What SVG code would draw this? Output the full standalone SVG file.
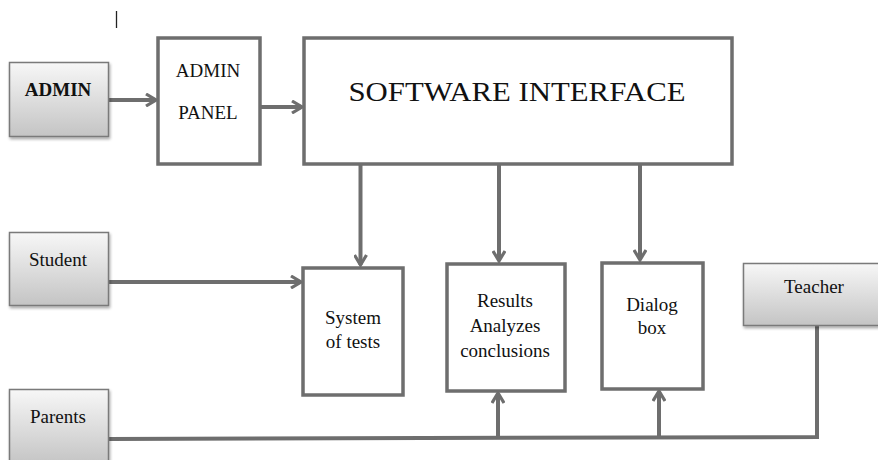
<svg xmlns="http://www.w3.org/2000/svg" width="878" height="460" viewBox="0 0 878 460">
  <defs>
    <linearGradient id="gfill" x1="0" y1="0" x2="0" y2="1">
      <stop offset="0" stop-color="#f7f7f7"/>
      <stop offset="1" stop-color="#c4c4c4"/>
    </linearGradient>
    <filter id="shadow" x="-10%" y="-10%" width="130%" height="130%">
      <feGaussianBlur in="SourceAlpha" stdDeviation="1.5"/>
      <feOffset dx="1" dy="2" result="b"/>
      <feComponentTransfer><feFuncA type="linear" slope="0.35"/></feComponentTransfer>
      <feMerge><feMergeNode/><feMergeNode in="SourceGraphic"/></feMerge>
    </filter>
    <marker id="arr" viewBox="0 0 14 14" refX="12" refY="7" markerWidth="14" markerHeight="14" markerUnits="userSpaceOnUse" orient="auto">
      <path d="M2,1 L12,7 L2,13" fill="none" stroke="#6e6e6e" stroke-width="3.2" stroke-linejoin="miter"/>
    </marker>
    <style>
      .actor { fill: url(#gfill); stroke: #7a7a7a; stroke-width: 1.5; filter: url(#shadow); }
      .box { fill: #ffffff; stroke: #6e6e6e; stroke-width: 3.5; }
      .lbl { font-family: 'Liberation Serif', 'DejaVu Serif', serif; font-size: 19px; fill: #111; text-anchor: middle; }
      .bold { font-weight: bold; }
      .big { font-size: 27px; }
      .conn { fill: none; stroke: #6e6e6e; stroke-width: 4; }
      .arrow { marker-end: url(#arr); }
    </style>
  </defs>

  <line x1="116.5" y1="11" x2="116.5" y2="28" stroke="#222" stroke-width="1.3"/>

  <g id="connectors">
    <line class="conn arrow" x1="109" y1="100" x2="156" y2="100"/>
    <line class="conn arrow" x1="260" y1="107" x2="302" y2="107"/>
    <line class="conn arrow" x1="360.5" y1="165" x2="360.5" y2="265"/>
    <line class="conn arrow" x1="499" y1="165" x2="499" y2="261"/>
    <line class="conn arrow" x1="640" y1="165" x2="640" y2="260"/>
    <line class="conn arrow" x1="109" y1="282" x2="301" y2="282"/>
    <polyline class="conn" points="109,439 817,437 817,326"/>
    <line class="conn arrow" x1="498" y1="438" x2="498" y2="393"/>
    <line class="conn arrow" x1="659" y1="437" x2="659" y2="391"/>
  </g>

  <g id="admin">
    <rect class="actor" x="9.5" y="62.5" width="99" height="74"/>
    <text class="lbl bold" font-family="Liberation Serif, serif" x="58" y="96">ADMIN</text>
  </g>

  <g id="admin-panel">
    <rect class="box" x="158" y="38" width="102" height="126"/>
    <text class="lbl" font-family="Liberation Serif, serif" x="208" y="77">ADMIN</text>
    <text class="lbl" font-family="Liberation Serif, serif" x="208" y="119">PANEL</text>
  </g>

  <g id="software-interface">
    <rect class="box" x="304" y="38" width="428" height="126"/>
    <text class="lbl big" font-family="Liberation Serif, serif" x="517" y="101" textLength="337" lengthAdjust="spacingAndGlyphs">SOFTWARE INTERFACE</text>
  </g>

  <g id="student">
    <rect class="actor" x="9.5" y="232.5" width="99" height="73"/>
    <text class="lbl" x="58" y="266">Student</text>
  </g>

  <g id="system-of-tests">
    <rect class="box" x="303" y="268" width="100" height="127"/>
    <text class="lbl" x="353" y="324">System</text>
    <text class="lbl" x="353" y="348">of tests</text>
  </g>

  <g id="results">
    <rect class="box" x="447" y="264" width="118" height="127"/>
    <text class="lbl" x="505" y="307">Results</text>
    <text class="lbl" x="505" y="332">Analyzes</text>
    <text class="lbl" x="505" y="357">conclusions</text>
  </g>

  <g id="dialog-box">
    <rect class="box" x="602" y="263" width="101" height="126"/>
    <text class="lbl" x="652" y="311">Dialog</text>
    <text class="lbl" x="652" y="334">box</text>
  </g>

  <g id="teacher">
    <rect class="actor" x="743.5" y="263.5" width="140" height="62"/>
    <text class="lbl" x="814" y="293">Teacher</text>
  </g>

  <g id="parents">
    <rect class="actor" x="9.5" y="389.5" width="99" height="75"/>
    <text class="lbl" x="58" y="423">Parents</text>
  </g>
</svg>
